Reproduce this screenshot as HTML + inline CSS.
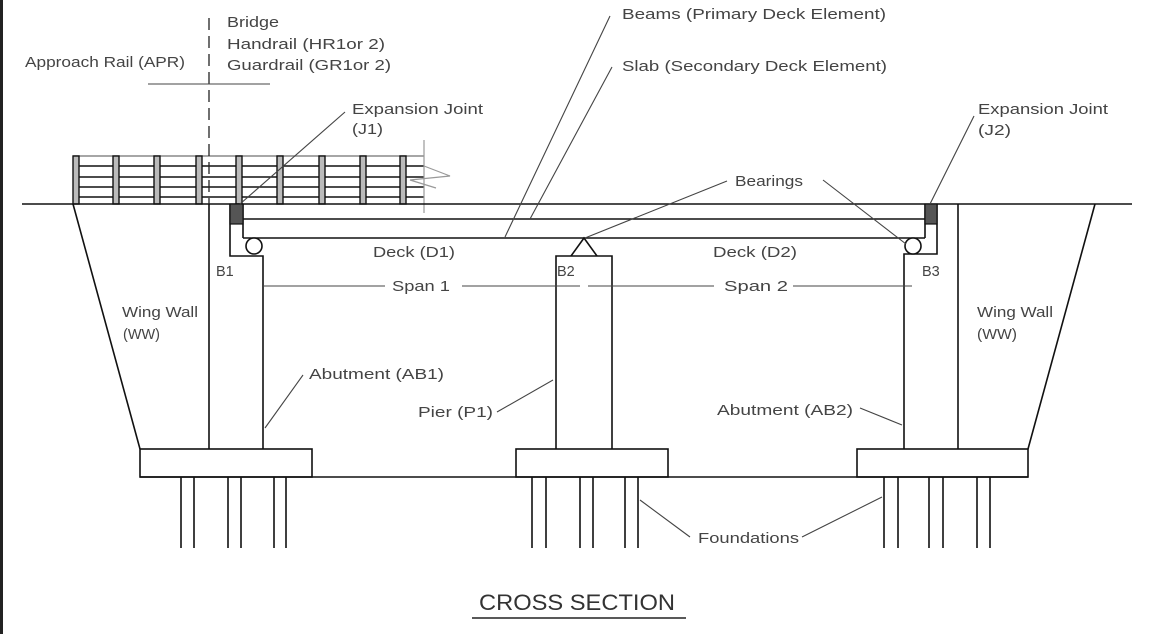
<!DOCTYPE html>
<html><head><meta charset="utf-8"><style>
html,body{margin:0;padding:0;background:#fff;}
svg{display:block;}
text{font-family:"Liberation Sans",sans-serif;font-size:14.5px;fill:#444;}
</style></head><body>
<svg width="1151" height="634" viewBox="0 0 1151 634" xmlns="http://www.w3.org/2000/svg">
<rect x="0" y="0" width="3" height="634" fill="#222"/>
<g stroke="#111" stroke-width="1.6" fill="none">
<line x1="73" y1="156" x2="424" y2="156" stroke="#888"/>
<line x1="73" y1="166" x2="424" y2="166"/>
<line x1="73" y1="177" x2="424" y2="177"/>
<line x1="73" y1="187" x2="424" y2="187"/>
<line x1="73" y1="197" x2="424" y2="197"/>
</g>
<g fill="#bbb" stroke="#111" stroke-width="1.4">
<rect x="73" y="156" width="6" height="48"/><rect x="113" y="156" width="6" height="48"/>
<rect x="154" y="156" width="6" height="48"/><rect x="196" y="156" width="6" height="48"/>
<rect x="236" y="156" width="6" height="48"/><rect x="277" y="156" width="6" height="48"/>
<rect x="319" y="156" width="6" height="48"/><rect x="360" y="156" width="6" height="48"/>
<rect x="400" y="156" width="6" height="48"/>
</g>
<g stroke="#999" stroke-width="1.2" fill="none">
<line x1="424" y1="140" x2="424" y2="213"/>
<polyline points="424,166 450,176 410,180 436,188"/>
</g>
<g stroke="#111" stroke-width="1.6" fill="none">
<line x1="22" y1="204" x2="1132" y2="204"/>
<line x1="140" y1="477" x2="1028" y2="477"/>
<line x1="73" y1="204" x2="140" y2="449"/>
<line x1="1095" y1="204" x2="1028" y2="449"/>
<line x1="209" y1="204" x2="209" y2="449"/>
<polyline points="230,204 230,256 263,256 263,449"/>
<line x1="958" y1="204" x2="958" y2="449"/>
<polyline points="937,204 937,254 904,254 904,449"/>
<line x1="243" y1="219" x2="925" y2="219"/>
<line x1="243" y1="238" x2="925" y2="238"/>
<line x1="243" y1="204" x2="243" y2="238"/>
<line x1="925" y1="204" x2="925" y2="238"/>
<circle cx="254" cy="246" r="8" fill="#fff"/>
<circle cx="913" cy="246" r="8" fill="#fff"/>
<polyline points="571,256 584,238 597,256"/>
<polyline points="556,449 556,256 612,256 612,449"/>
<rect x="140" y="449" width="172" height="28"/>
<rect x="516" y="449" width="152" height="28"/>
<rect x="857" y="449" width="171" height="28"/>
<path d="M181 477V548M194 477V548M228 477V548M241 477V548M274 477V548M286 477V548
M532 477V548M546 477V548M580 477V548M593 477V548M625 477V548M638 477V548
M884 477V548M898 477V548M929 477V548M943 477V548M977 477V548M990 477V548"/>
</g>
<rect x="230" y="204" width="13" height="20" fill="#555" stroke="#111" stroke-width="1.2"/>
<rect x="925" y="204" width="12" height="20" fill="#555" stroke="#111" stroke-width="1.2"/>
<line x1="209" y1="18" x2="209" y2="204" stroke="#222" stroke-width="1.3" stroke-dasharray="12,6"/>
<g stroke="#444" stroke-width="1.1" fill="none">
<line x1="148" y1="84" x2="270" y2="84"/>
<line x1="610" y1="16" x2="505" y2="237"/>
<line x1="612" y1="67" x2="530" y2="219"/>
<line x1="345" y1="112" x2="240" y2="204"/>
<line x1="974" y1="116" x2="930" y2="204"/>
<line x1="727" y1="181" x2="585" y2="238"/>
<line x1="823" y1="180" x2="906" y2="244"/>
<line x1="303" y1="375" x2="265" y2="428"/>
<line x1="497" y1="412" x2="553" y2="380"/>
<line x1="860" y1="408" x2="902" y2="425"/>
<line x1="690" y1="537" x2="640" y2="500"/>
<line x1="802" y1="537" x2="882" y2="497"/>
<line x1="263" y1="286" x2="385" y2="286"/>
<line x1="462" y1="286" x2="580" y2="286"/>
<line x1="588" y1="286" x2="714" y2="286"/>
<line x1="793" y1="286" x2="912" y2="286"/>
<line x1="472" y1="618" x2="686" y2="618" stroke="#222" stroke-width="1.4"/>
</g>
<g lengthAdjust="spacingAndGlyphs">
<text x="25" y="67" textLength="160" lengthAdjust="spacingAndGlyphs">Approach Rail (APR)</text>
<text x="227" y="27" textLength="52" lengthAdjust="spacingAndGlyphs">Bridge</text>
<text x="227" y="49" textLength="158" lengthAdjust="spacingAndGlyphs">Handrail (HR1or 2)</text>
<text x="227" y="70" textLength="164" lengthAdjust="spacingAndGlyphs">Guardrail (GR1or 2)</text>
<text x="622" y="19" textLength="264" lengthAdjust="spacingAndGlyphs">Beams (Primary Deck Element)</text>
<text x="622" y="71" textLength="265" lengthAdjust="spacingAndGlyphs">Slab (Secondary Deck Element)</text>
<text x="352" y="114" textLength="131" lengthAdjust="spacingAndGlyphs">Expansion Joint</text>
<text x="352" y="134" textLength="31" lengthAdjust="spacingAndGlyphs">(J1)</text>
<text x="978" y="114" textLength="130" lengthAdjust="spacingAndGlyphs">Expansion Joint</text>
<text x="978" y="135" textLength="33" lengthAdjust="spacingAndGlyphs">(J2)</text>
<text x="735" y="186" textLength="68" lengthAdjust="spacingAndGlyphs">Bearings</text>
<text x="373" y="257" textLength="82" lengthAdjust="spacingAndGlyphs">Deck (D1)</text>
<text x="713" y="257" textLength="84" lengthAdjust="spacingAndGlyphs">Deck (D2)</text>
<text x="216" y="276">B1</text>
<text x="557" y="276">B2</text>
<text x="922" y="276">B3</text>
<text x="392" y="291" textLength="58" lengthAdjust="spacingAndGlyphs">Span 1</text>
<text x="724" y="291" textLength="64" lengthAdjust="spacingAndGlyphs">Span 2</text>
<text x="122" y="317" textLength="76" lengthAdjust="spacingAndGlyphs">Wing Wall</text>
<text x="123" y="339" textLength="37" lengthAdjust="spacingAndGlyphs">(WW)</text>
<text x="977" y="317" textLength="76" lengthAdjust="spacingAndGlyphs">Wing Wall</text>
<text x="977" y="339" textLength="40" lengthAdjust="spacingAndGlyphs">(WW)</text>
<text x="309" y="379" textLength="135" lengthAdjust="spacingAndGlyphs">Abutment (AB1)</text>
<text x="418" y="417" textLength="75" lengthAdjust="spacingAndGlyphs">Pier (P1)</text>
<text x="717" y="415" textLength="136" lengthAdjust="spacingAndGlyphs">Abutment (AB2)</text>
<text x="698" y="543" textLength="101" lengthAdjust="spacingAndGlyphs">Foundations</text>
<text x="479" y="610" textLength="196" lengthAdjust="spacingAndGlyphs" style="font-size:22px;fill:#333">CROSS SECTION</text>
</g>
</svg>
</body></html>
